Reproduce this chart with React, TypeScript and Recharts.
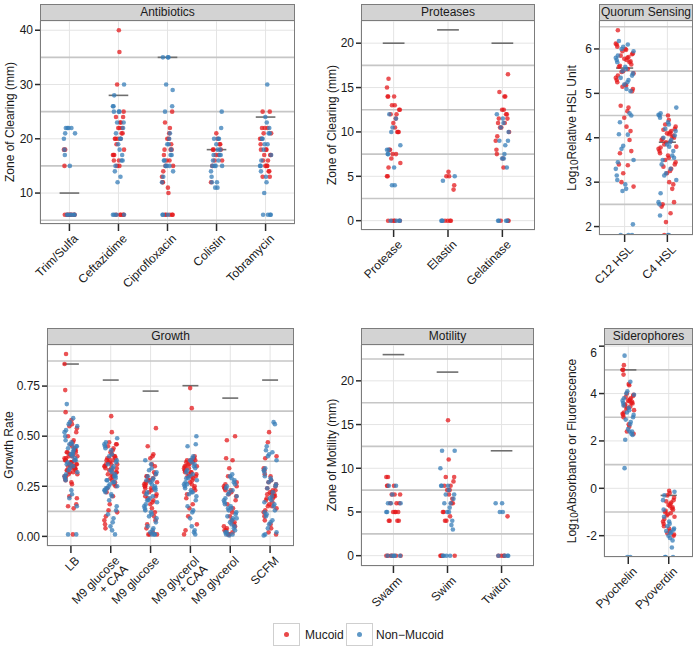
import { ScatterChart, Scatter, XAxis, YAxis, CartesianGrid, ReferenceLine } from "recharts"

const FONT = '"Liberation Sans", Arial, Helvetica, sans-serif'
const RED = "#E41A1C"
const BLUE = "#377EB8"
const STRIP = 17

// horizontal spread of the strip plots (fraction of the jitter width)
const JITTER = [-0.72, 0.41, -0.15, 0.88, -0.5, 0.07, 0.63, -0.94, 0.29, -0.33, 0.79, -0.61, 0.16, 0.52, -0.84, -0.04, 0.95, -0.42, 0.34, -0.23, 0.71, -0.78, 0.2]

// Antibiotics
const antibioticCats = ["Trim/Sulfa", "Ceftazidime", "Ciprofloxacin", "Colistin", "Tobramycin"]
const antibioticMucoid = [
  [18, 18, 15, 6, 6, 6, 6, 6, 6, 6, 6],
  [40, 36, 30, 25, 24, 24, 23, 23, 22, 22, 22, 21, 21, 20, 20, 20, 20, 19, 18, 17, 17, 17, 16, 16, 15, 15, 6, 6, 6, 6, 6],
  [25, 23, 22, 21, 20, 20, 19, 18, 18, 18, 17, 16, 16, 15, 15, 14, 13, 12, 12, 11, 10, 6, 6, 6, 6, 6],
  [21, 20, 19, 19, 18, 18, 18, 17, 17, 16, 16, 15, 12],
  [25, 25, 22, 22, 22, 21, 21, 20, 20, 19, 18, 18, 18, 17, 17, 17, 16, 16, 15, 15, 15, 14, 14, 13, 13],
]
const antibioticNonMucoid = [
  [22, 22, 22, 22, 21, 21, 20, 18, 17, 15, 6, 6, 6, 6, 6, 6],
  [30, 28, 26, 26, 25, 25, 25, 23, 23, 22, 21, 20, 20, 19, 18, 17, 16, 16, 15, 14, 13, 12, 6, 6, 6, 6],
  [35, 35, 35, 30, 29, 26, 25, 21, 20, 19, 19, 18, 17, 17, 16, 16, 15, 15, 15, 14, 13, 12, 6, 6, 6],
  [25, 22, 20, 20, 20, 19, 18, 18, 17, 17, 17, 16, 16, 15, 15, 15, 15, 14, 13, 12, 12, 11, 11],
  [30, 24, 23, 22, 21, 21, 20, 20, 19, 19, 18, 17, 16, 15, 15, 14, 13, 12, 10, 6, 6, 6, 6],
]
const antibioticMedians = [10, 28, 35, 18, 24]

// Proteases
const proteaseCats = ["Protease", "Elastin", "Gelatinase"]
const proteaseMucoid = [
  [16, 15, 14, 14, 14, 13, 13, 12.5, 12.5, 12, 12, 11.5, 11, 10.5, 10, 10, 10, 8, 8, 7.5, 7.5, 7, 6.5, 6, 5, 5, 0, 0, 0, 0, 0],
  [5.5, 5, 5, 4, 3.5, 0, 0, 0, 0],
  [16.5, 14.5, 14, 14, 12.5, 12.5, 12, 12, 11.5, 11.5, 11, 11, 10.5, 10.5, 10, 9.5, 9, 8, 7.5, 7, 6, 0, 0, 0],
]
const proteaseNonMucoid = [
  [12, 11.5, 10.5, 10, 8.5, 8, 8, 7.5, 7.5, 6, 4, 4, 0, 0, 0, 0],
  [5, 4.5, 0, 0, 0],
  [12, 11.5, 11, 10.5, 10, 9, 9, 8.5, 7.5, 7, 7, 6, 0, 0, 0, 0],
]
const proteaseMedians = [20, 21.5, 20]

// Quorum sensing
const qsCats = ["C12 HSL", "C4 HSL"]
const qsMucoid = [
  [6.42, 6.12, 6.1, 6.05, 6.0, 5.98, 5.95, 5.9, 5.88, 5.85, 5.82, 5.8, 5.78, 5.75, 5.72, 5.7, 5.65, 5.62, 5.6, 5.55, 5.5, 5.48, 5.45, 5.4, 5.35, 5.3, 5.25, 5.2, 5.18, 5.15, 5.1, 5.05, 4.72, 4.68, 4.6, 4.45, 4.25, 4.15, 3.95, 3.7, 3.65, 3.4, 3.38, 3.2, 3.0, 2.9],
  [4.5, 4.4, 4.3, 4.25, 4.2, 4.18, 4.15, 4.12, 4.1, 4.08, 4.05, 4.02, 4.0, 3.98, 3.95, 3.92, 3.9, 3.85, 3.8, 3.78, 3.75, 3.7, 3.65, 3.6, 3.55, 3.5, 3.45, 3.4, 3.35, 3.3, 3.25, 3.2, 3.0, 2.95, 2.85, 2.55, 2.5, 2.45, 2.3, 2.1, 1.81],
]
const qsNonMucoid = [
  [6.18, 6.1, 6.05, 6.0, 5.95, 5.85, 5.8, 5.75, 5.7, 5.6, 5.55, 5.5, 5.45, 5.4, 5.35, 5.3, 5.25, 5.2, 5.1, 5.05, 4.55, 4.5, 4.35, 4.08, 4.07, 3.82, 3.75, 3.5, 3.45, 3.3, 3.15, 3.05, 2.95, 2.85, 2.8, 2.05, 1.81, 1.81, 1.81],
  [4.68, 4.55, 4.52, 4.5, 4.45, 4.35, 4.3, 4.2, 4.15, 4.05, 4.0, 3.95, 3.9, 3.85, 3.8, 3.7, 3.6, 3.55, 3.5, 3.4, 3.3, 3.2, 3.15, 3.05, 2.75, 2.55, 2.5, 2.25, 1.81, 1.81],
]
const qsMedians = [5.57, 3.9]

// Growth
const growthCats = ["LB", "M9 glucose\n+ CAA", "M9 glucose", "M9 glycerol\n+ CAA", "M9 glycerol", "SCFM"]
const growthMucoid = [
  [0.91, 0.86, 0.73, 0.62, 0.58, 0.56, 0.55, 0.54, 0.52, 0.5, 0.48, 0.47, 0.46, 0.45, 0.44, 0.43, 0.43, 0.42, 0.42, 0.41, 0.41, 0.4, 0.4, 0.39, 0.39, 0.38, 0.38, 0.37, 0.37, 0.36, 0.36, 0.36, 0.35, 0.35, 0.35, 0.35, 0.34, 0.34, 0.34, 0.33, 0.33, 0.33, 0.32, 0.32, 0.31, 0.31, 0.3, 0.3, 0.29, 0.28, 0.27, 0.26, 0.2, 0.19, 0.16, 0.15, 0.14, 0.01, 0.37, 0.4, 0.34, 0.38, 0.42],
  [0.6, 0.52, 0.47, 0.46, 0.46, 0.45, 0.44, 0.43, 0.42, 0.41, 0.4, 0.4, 0.39, 0.39, 0.38, 0.38, 0.37, 0.37, 0.36, 0.36, 0.35, 0.35, 0.34, 0.34, 0.33, 0.33, 0.32, 0.32, 0.31, 0.3, 0.3, 0.29, 0.28, 0.27, 0.26, 0.25, 0.24, 0.22, 0.2, 0.16, 0.13, 0.12, 0.1, 0.08, 0.06, 0.04, 0.36, 0.31, 0.39, 0.34],
  [0.54, 0.45, 0.41, 0.4, 0.39, 0.36, 0.35, 0.32, 0.31, 0.3, 0.3, 0.29, 0.28, 0.28, 0.27, 0.26, 0.26, 0.25, 0.24, 0.24, 0.23, 0.22, 0.21, 0.2, 0.19, 0.18, 0.17, 0.16, 0.14, 0.12, 0.1, 0.08, 0.06, 0.04, 0.02, 0.01, 0.01, 0.01, 0.27, 0.22, 0.25, 0.2],
  [0.74, 0.64, 0.4, 0.39, 0.38, 0.38, 0.37, 0.37, 0.36, 0.36, 0.35, 0.35, 0.34, 0.33, 0.33, 0.32, 0.32, 0.31, 0.31, 0.3, 0.3, 0.29, 0.28, 0.27, 0.26, 0.25, 0.24, 0.23, 0.21, 0.19, 0.16, 0.14, 0.1, 0.06, 0.03, 0.01, 0.35, 0.32, 0.38, 0.3, 0.34],
  [0.5, 0.48, 0.39, 0.38, 0.34, 0.3, 0.27, 0.26, 0.25, 0.24, 0.24, 0.23, 0.22, 0.21, 0.2, 0.18, 0.16, 0.14, 0.12, 0.1, 0.08, 0.07, 0.06, 0.05, 0.04, 0.03, 0.02, 0.01, 0.01, 0.25, 0.23, 0.05, 0.03],
  [0.52, 0.47, 0.4, 0.39, 0.34, 0.33, 0.31, 0.3, 0.28, 0.27, 0.26, 0.25, 0.24, 0.23, 0.22, 0.22, 0.21, 0.21, 0.2, 0.2, 0.19, 0.18, 0.17, 0.16, 0.15, 0.14, 0.13, 0.12, 0.1, 0.08, 0.06, 0.04, 0.02, 0.01, 0.23, 0.21, 0.19, 0.15],
]
const growthNonMucoid = [
  [0.66, 0.59, 0.57, 0.56, 0.55, 0.53, 0.52, 0.5, 0.48, 0.47, 0.46, 0.46, 0.45, 0.45, 0.44, 0.43, 0.42, 0.41, 0.4, 0.39, 0.38, 0.38, 0.37, 0.36, 0.35, 0.34, 0.33, 0.32, 0.31, 0.3, 0.29, 0.28, 0.23, 0.21, 0.19, 0.15, 0.01, 0.01, 0.44, 0.41, 0.36],
  [0.49, 0.47, 0.46, 0.45, 0.44, 0.43, 0.41, 0.4, 0.38, 0.37, 0.36, 0.35, 0.34, 0.33, 0.32, 0.31, 0.3, 0.29, 0.28, 0.28, 0.27, 0.26, 0.25, 0.25, 0.24, 0.23, 0.23, 0.22, 0.21, 0.2, 0.18, 0.15, 0.13, 0.11, 0.09, 0.07, 0.05, 0.03, 0.01, 0.27, 0.3, 0.24],
  [0.38, 0.36, 0.34, 0.33, 0.32, 0.31, 0.3, 0.29, 0.28, 0.27, 0.26, 0.25, 0.24, 0.23, 0.22, 0.21, 0.2, 0.19, 0.18, 0.17, 0.16, 0.15, 0.14, 0.13, 0.12, 0.11, 0.1, 0.09, 0.07, 0.05, 0.04, 0.03, 0.02, 0.01, 0.01, 0.01, 0.24, 0.18, 0.28],
  [0.5, 0.46, 0.45, 0.4, 0.39, 0.38, 0.37, 0.36, 0.35, 0.34, 0.33, 0.32, 0.31, 0.3, 0.29, 0.28, 0.27, 0.26, 0.25, 0.24, 0.23, 0.22, 0.21, 0.2, 0.18, 0.15, 0.13, 0.12, 0.09, 0.05, 0.03, 0.02, 0.01, 0.26, 0.29, 0.22],
  [0.31, 0.3, 0.29, 0.28, 0.27, 0.26, 0.25, 0.24, 0.23, 0.22, 0.21, 0.2, 0.19, 0.18, 0.17, 0.16, 0.15, 0.14, 0.13, 0.12, 0.11, 0.1, 0.09, 0.08, 0.07, 0.06, 0.05, 0.04, 0.03, 0.02, 0.01, 0.01, 0.005, 0.14, 0.09, 0.02],
  [0.57, 0.56, 0.45, 0.43, 0.42, 0.41, 0.4, 0.38, 0.34, 0.33, 0.32, 0.3, 0.29, 0.28, 0.27, 0.26, 0.25, 0.24, 0.22, 0.2, 0.19, 0.18, 0.16, 0.15, 0.13, 0.11, 0.1, 0.08, 0.06, 0.04, 0.02, 0.01, 0.005, 0.17, 0.12, 0.07],
]
const growthMedians = [0.86, 0.78, 0.725, 0.752, 0.69, 0.78]

// Motility
const motilityCats = ["Swarm", "Swim", "Twitch"]
const motilityMucoid = [
  [9, 9, 8, 8, 8, 7, 7, 7, 6, 6, 6, 5, 5, 5, 5, 4, 4, 4, 4, 0, 0, 0, 0, 0, 0],
  [15.5, 11, 9, 9, 8.5, 8, 8, 7.5, 7.5, 7, 6.5, 6, 6, 5, 5, 4.5, 4, 4, 0, 0, 0, 0],
  [4.5, 0, 0, 0, 0],
]
const motilityNonMucoid = [
  [8, 8, 7, 6, 6, 6, 5, 5, 0, 0, 0, 0, 0],
  [12, 12, 10, 8, 8, 8, 7.5, 7, 7, 6.5, 6, 6, 5.5, 5, 5, 4, 3.5, 3, 0, 0, 0, 0],
  [6, 6, 5, 5, 0, 0, 0, 0],
]
const motilityMedians = [23, 21, 12]

// Siderophores
const sideroCats = ["Pyochelin", "Pyoverdin"]
const sideroMucoid = [
  [5.2, 5.0, 5.0, 4.8, 4.4, 4.35, 4.0, 3.95, 3.9, 3.85, 3.8, 3.75, 3.7, 3.68, 3.65, 3.6, 3.58, 3.55, 3.5, 3.45, 3.4, 3.35, 3.3, 3.2, 3.15, 3.1, 3.0, 2.7, 2.6, 2.4, 2.3],
  [-0.1, -0.2, -0.3, -0.4, -0.5, -0.55, -0.6, -0.65, -0.7, -0.75, -0.8, -0.85, -0.9, -0.95, -1.0, -1.05, -1.1, -1.15, -1.2, -1.3, -1.4, -1.5, -1.6, -1.7, -1.8, -1.9, -1.95, -2.0],
]
const sideroNonMucoid = [
  [5.6, 4.5, 4.1, 4.0, 3.95, 3.8, 3.7, 3.6, 3.5, 3.4, 3.3, 3.2, 3.1, 3.0, 2.9, 2.8, 2.7, 2.5, 2.4, 2.4, 2.3, 2.25, 2.05, 0.85, -2.9, -2.9],
  [-0.15, -0.3, -0.5, -0.9, -1.2, -1.4, -1.5, -1.6, -1.7, -1.75, -1.8, -1.85, -1.9, -2.0, -2.1, -2.2, -2.5, -2.9, -2.9, -2.9],
]
const sideroMedians = [5.0, -0.3]

type PanelDef = {
  title: string
  cats: string[]
  mucoid: number[][]
  nonMucoid: number[][]
  medians: number[]
  domain: [number, number]
  ticks: number[]
  minor: number[]
  fmt?: (v: number) => string
  box: { x: number; y: number; w: number; h: number }
  jitter: number
}

const panels: PanelDef[] = [
  {
    title: "Antibiotics", cats: antibioticCats, mucoid: antibioticMucoid, nonMucoid: antibioticNonMucoid,
    medians: antibioticMedians, domain: [4.3, 41.7], ticks: [10, 20, 30, 40], minor: [5, 15, 25, 35],
    box: { x: 40, y: 21, w: 255, h: 203 }, jitter: 0.12,
  },
  {
    title: "Proteases", cats: proteaseCats, mucoid: proteaseMucoid, nonMucoid: proteaseNonMucoid,
    medians: proteaseMedians, domain: [-1.05, 22.5], ticks: [0, 5, 10, 15, 20], minor: [2.5, 7.5, 12.5, 17.5],
    box: { x: 361, y: 21, w: 174, h: 209 }, jitter: 0.13,
  },
  {
    title: "Quorum Sensing", cats: qsCats, mucoid: qsMucoid, nonMucoid: qsNonMucoid,
    medians: qsMedians, domain: [1.81, 6.63], ticks: [2, 3, 4, 5, 6], minor: [2.5, 3.5, 4.5, 5.5, 6.5],
    box: { x: 599, y: 21, w: 94, h: 214 }, jitter: 0.22,
  },
  {
    title: "Growth", cats: growthCats, mucoid: growthMucoid, nonMucoid: growthNonMucoid,
    medians: growthMedians, domain: [-0.048, 0.955], ticks: [0, 0.25, 0.5, 0.75], minor: [0.125, 0.375, 0.625, 0.875],
    fmt: (v) => v.toFixed(2), box: { x: 47, y: 345, w: 247, h: 201 }, jitter: 0.17,
  },
  {
    title: "Motility", cats: motilityCats, mucoid: motilityMucoid, nonMucoid: motilityNonMucoid,
    medians: motilityMedians, domain: [-1.18, 24.1], ticks: [0, 5, 10, 15, 20], minor: [2.5, 7.5, 12.5, 17.5, 22.5],
    box: { x: 361, y: 345, w: 173, h: 221 }, jitter: 0.14,
  },
  {
    title: "Siderophores", cats: sideroCats, mucoid: sideroMucoid, nonMucoid: sideroNonMucoid,
    medians: sideroMedians, domain: [-2.9, 6.05], ticks: [-2, 0, 2, 4, 6], minor: [-1, 1, 3, 5],
    box: { x: 604, y: 345, w: 89, h: 212 }, jitter: 0.15,
  },
]

const YW = 46
const XH = 95

const toPoints = (groups: number[][], jw: number, off: number) =>
  groups.flatMap((vals, i) =>
    vals.map((v, k) => ({ x: i + JITTER[(k * 7 + off + i * 5) % JITTER.length] * jw, y: v }))
  )

const dot = (color: string) => (props: any) =>
  <circle cx={props.cx} cy={props.cy} r={2.3} fill={color} fillOpacity={0.75} />

function XTick({ x, y, payload, cats }: any) {
  const lines = String(cats[Math.round(payload.value)] ?? "").split("\n")
  return (
    <g transform={`translate(${x + 3},${y})`}>
      <text transform="rotate(-45)" textAnchor="end" fontSize={12} fill="#1a1a1a" fontFamily={FONT}>
        {lines.map((l, i) => (
          <tspan key={i} x={0} dy={i === 0 ? "0.75em" : "1.0em"}>{l}</tspan>
        ))}
      </text>
    </g>
  )
}

function Panel({ p }: { p: PanelDef }) {
  const n = p.cats.length
  const { x, y, w, h } = p.box
  return (
    <>
      <div style={{ position: "absolute", left: x - YW, top: y }}>
        <ScatterChart width={YW + w} height={h + XH} margin={{ top: 0, right: 0, bottom: 0, left: 0 }}>
          <CartesianGrid stroke="#e4e4e4" strokeWidth={1} />
          {p.minor.map((m) => (
            <ReferenceLine key={m} y={m} stroke="#c6c6c6" strokeWidth={1.6} />
          ))}
          <XAxis
            type="number"
            dataKey="x"
            domain={[-0.6, n - 0.4]}
            ticks={p.cats.map((_, i) => i)}
            interval={0}
            allowDataOverflow
            axisLine={false}
            tickSize={7}
            tickMargin={2}
            tickLine={{ stroke: "#2a2a2a", strokeWidth: 1.5 }}
            height={XH}
            tick={<XTick cats={p.cats} />}
          />
          <YAxis
            type="number"
            dataKey="y"
            domain={p.domain}
            ticks={p.ticks}
            allowDataOverflow
            axisLine={false}
            width={YW}
            tickSize={5}
            tickMargin={2}
            tickLine={{ stroke: "#2a2a2a", strokeWidth: 1.5 }}
            tickFormatter={p.fmt ?? ((v: number) => String(v))}
            tick={{ fontSize: 12, fill: "#1a1a1a", fontFamily: FONT }}
          />
          <Scatter data={toPoints(p.mucoid, p.jitter, 0)} shape={dot(RED)} isAnimationActive={false} />
          <Scatter data={toPoints(p.nonMucoid, p.jitter, 11)} shape={dot(BLUE)} isAnimationActive={false} />
          {p.medians.map((m, i) => (
            <ReferenceLine
              key={i}
              segment={[{ x: i - 0.2, y: m }, { x: i + 0.2, y: m }]}
              stroke="#6e6e6e"
              strokeWidth={1.6}
            />
          ))}
        </ScatterChart>
      </div>
      <div
        style={{
          position: "absolute", left: x, top: y - STRIP, width: w, height: h + STRIP,
          border: "1.5px solid #7c7c7c", boxSizing: "border-box", pointerEvents: "none",
        }}
      />
      <div
        style={{
          position: "absolute", left: x, top: y - STRIP, width: w, height: STRIP,
          background: "#d3d3d3", border: "1.5px solid #7c7c7c", boxSizing: "border-box",
          fontFamily: FONT, fontSize: 12, color: "#1a1a1a", textAlign: "center", lineHeight: `${STRIP - 3}px`,
          whiteSpace: "nowrap", overflow: "hidden",
        }}
      >
        {p.title}
      </div>
    </>
  )
}

const yTitles = [
  { x: 10, y: 122, text: "Zone of Clearing (mm)" },
  { x: 332, y: 125, text: "Zone of Clearing (mm)" },
  { x: 572, y: 128, log: "Relative HSL Unit" },
  { x: 9, y: 445, text: "Growth Rate" },
  { x: 332, y: 455, text: "Zone of Motility (mm)" },
  { x: 572, y: 451, log: "Absorbance or Fluorescence" },
]

export default function App() {
  return (
    <div style={{ position: "absolute", left: 0, top: 0, width: 697, height: 654, background: "#fff", fontFamily: FONT }}>
      {panels.map((p) => <Panel key={p.title} p={p} />)}
      <svg width={697} height={654} style={{ position: "absolute", left: 0, top: 0, pointerEvents: "none" }}>
        {yTitles.map((t, i) => (
          <text
            key={i}
            transform={`translate(${t.x},${t.y}) rotate(-90)`}
            textAnchor="middle"
            dominantBaseline="central"
            fontSize={12}
            fill="#1a1a1a"
            fontFamily={FONT}
          >
            {t.log ? (
              <>
                <tspan>Log</tspan>
                <tspan fontSize={10} dy={2}>10</tspan>
                <tspan dy={-2}>{t.log}</tspan>
              </>
            ) : t.text}
          </text>
        ))}
        <rect x={273.5} y={623.5} width={26} height={22} fill="#fff" stroke="#cfcfcf" />
        <circle cx={286.5} cy={634.5} r={2.5} fill={RED} fillOpacity={0.8} />
        <text x={305} y={634.5} dominantBaseline="central" fontSize={12} fill="#1a1a1a" fontFamily={FONT}>Mucoid</text>
        <rect x={346.5} y={623.5} width={26} height={22} fill="#fff" stroke="#cfcfcf" />
        <circle cx={359.5} cy={634.5} r={2.5} fill={BLUE} fillOpacity={0.8} />
        <text x={376} y={634.5} dominantBaseline="central" fontSize={12} fill="#1a1a1a" fontFamily={FONT}>Non−Mucoid</text>
      </svg>
    </div>
  )
}
